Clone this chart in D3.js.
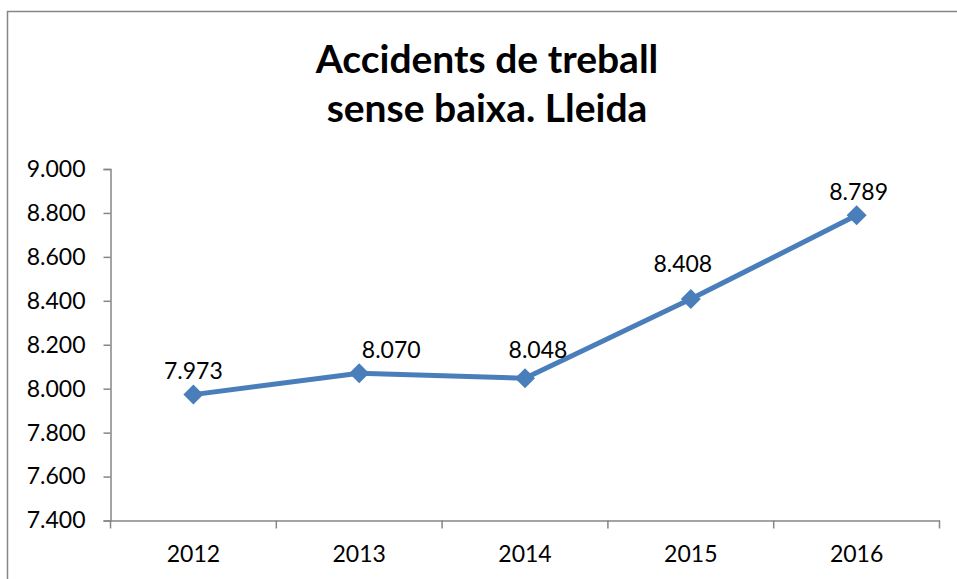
<!DOCTYPE html>
<html>
<head>
<meta charset="utf-8">
<script src="https://cdn.jsdelivr.net/npm/d3@7"></script>
<style>
  body { margin: 0; background: #fff; }
  svg { display: block; font-family: Lato, "Open Sans", sans-serif; }
</style>
</head>
<body>
<svg id="chart" width="957" height="579"></svg>
<script>
// chart values
var years = ['2012', '2013', '2014', '2015', '2016'];
var accidents = [7973, 8070, 8048, 8408, 8789];
var yTicks = [7400, 7600, 7800, 8000, 8200, 8400, 8600, 8800, 9000];
var titleLines = ['Accidents de treball', 'sense baixa. Lleida'];

// data labels were nudged by hand in the original, keep that
var labelDx = [0, 32, 13, -8, 2];
var labelDy = [-16, -15, -20, -27, -15];

var svg = d3.select('#chart');
var W = 957, H = 579;
var plotLeft = 110.5, plotRight = 939.5, plotTop = 169, plotBottom = 520.5;
var grey = '#868686', blue = '#4A7EBB';

// outer frame (right/bottom edges run off the picture)
svg.append('rect')
    .attr('x', 7.5).attr('y', 11.5)
    .attr('width', W + 20).attr('height', H + 20)
    .attr('fill', 'none').attr('stroke', grey).attr('stroke-width', 1.5);

// title
svg.append('g').selectAll('text')
    .data(titleLines)
    .enter()
    .append('text')
        .attr('x', 487)
        .attr('y', function(d, i) { return 73 + i * 49 })
        .attr('text-anchor', 'middle')
        .attr('font-weight', 'bold')
        .attr('font-size', 39)
        .attr('fill', '#000')
        .text(function(d) { return d });

var x = d3.scaleBand().domain(years).range([plotLeft, plotRight]);
var y = d3.scaleLinear().domain([7400, 9000]).range([plotBottom, plotTop]);
var fmt = function(v) { return d3.format(',')(v).replace(/,/g, '.') };

// y axis
var yAxis = svg.append('g')
    .attr('transform', 'translate(' + plotLeft + ',0)')
    .call(d3.axisLeft(y).tickValues(yTicks).tickFormat(fmt).tickSize(7).tickPadding(18));

// x axis, ticks on the category boundaries
var xAxis = svg.append('g')
    .attr('transform', 'translate(0,' + plotBottom + ')')
    .call(d3.axisBottom(x).tickSize(0).tickPadding(25));
xAxis.selectAll('.bounds')
    .data(d3.range(years.length + 1))
    .enter()
    .append('line')
        .attr('x1', function(i) { return plotLeft + i * x.step() })
        .attr('x2', function(i) { return plotLeft + i * x.step() })
        .attr('y1', 0).attr('y2', 8)
        .attr('stroke', grey).attr('stroke-width', 1.5);

[yAxis, xAxis].forEach(function(g) {
    g.selectAll('.domain').attr('stroke', grey).attr('stroke-width', 1.5);
    g.selectAll('.tick line').attr('stroke', grey).attr('stroke-width', 1.5);
    g.selectAll('.tick text').attr('font-size', 23).attr('fill', '#000')
        .attr('font-family', 'Lato, "Open Sans", sans-serif');
});

var cx = function(d, i) { return x(years[i]) + x.bandwidth() / 2 };

// line
svg.append('path')
    .datum(accidents)
    .attr('d', d3.line().x(cx).y(function(d) { return y(d) }))
    .attr('fill', 'none')
    .attr('stroke', blue)
    .attr('stroke-width', 5)
    .attr('stroke-linejoin', 'round');

// diamond markers
svg.selectAll('.marker')
    .data(accidents)
    .enter()
    .append('path')
        .attr('class', 'marker')
        .attr('d', d3.symbol().type(d3.symbolSquare).size(200))
        .attr('transform', function(d, i) { return 'translate(' + cx(d, i) + ',' + y(d) + ') rotate(45)' })
        .attr('fill', blue);

// data labels
svg.selectAll('.label')
    .data(accidents)
    .enter()
    .append('text')
        .attr('class', 'label')
        .attr('x', function(d, i) { return cx(d, i) + labelDx[i] })
        .attr('y', function(d, i) { return y(d) + labelDy[i] })
        .attr('text-anchor', 'middle')
        .attr('font-size', 23)
        .attr('fill', '#000')
        .text(fmt);
</script>
</body>
</html>
